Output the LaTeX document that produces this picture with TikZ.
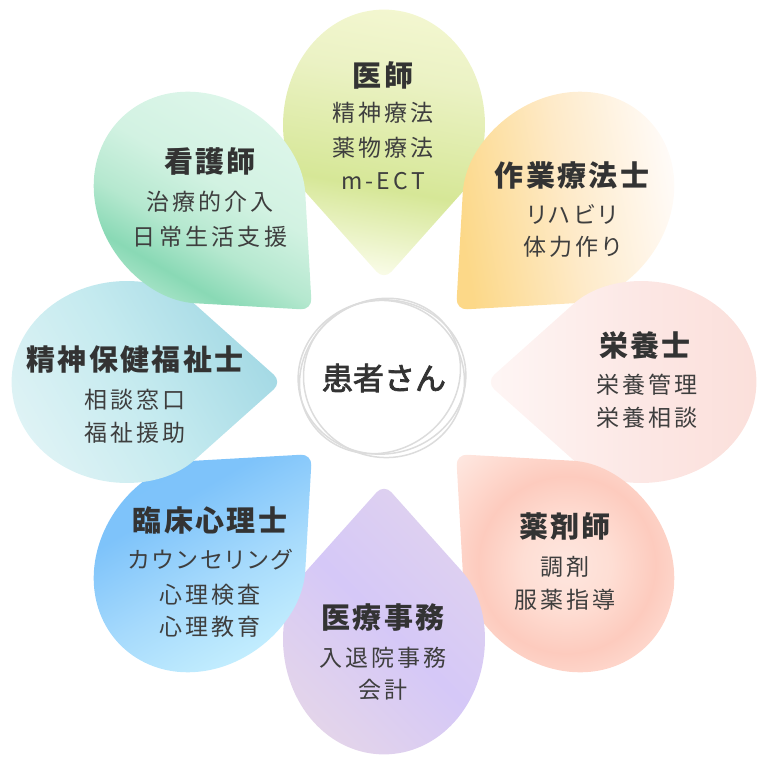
\documentclass[tikz,border=0pt]{standalone}
\usepackage{fontspec}
\setmainfont{Noto Sans CJK JP}
\newfontfamily\titlefont{Noto Sans CJK JP}[LetterSpace=8]
\newfontfamily\subfont{Noto Sans CJK JP}[LetterSpace=14, RawFeature=+palt]
\newfontfamily\centerfont{Noto Sans CJK JP}[FakeBold=2.5]
\definecolor{titlecol}{HTML}{333333}
\definecolor{subcol}{HTML}{3E3E3E}
\definecolor{scrib}{HTML}{DCDCDC}
% colours for shadings
\definecolor{iA}{HTML}{FAFCE9}\definecolor{iB}{HTML}{D6E797}\definecolor{iC}{HTML}{EBF2C4}\definecolor{iD}{HTML}{F7F9D6}
\definecolor{oA}{HTML}{FCD888}\definecolor{oB}{HTML}{FEEAC8}\definecolor{oC}{HTML}{FFFBF8}
\definecolor{nA}{HTML}{FEF6F5}\definecolor{nB}{HTML}{FCE6E3}\definecolor{nC}{HTML}{FBDFDA}
\definecolor{pA}{HTML}{FEE6DF}\definecolor{pB}{HTML}{FEDED4}\definecolor{pC}{HTML}{FDCBBE}\definecolor{pD}{HTML}{FEDBD1}\definecolor{pE}{HTML}{FEEAE4}
\definecolor{aA}{HTML}{EADAE4}\definecolor{aB}{HTML}{D5C8F7}\definecolor{aC}{HTML}{E4D6EB}
\definecolor{cA}{HTML}{7BC1FA}\definecolor{cB}{HTML}{7EC3FA}\definecolor{cC}{HTML}{A6DAFC}\definecolor{cD}{HTML}{C5EFFE}
\definecolor{mA}{HTML}{A2D8E4}\definecolor{mB}{HTML}{C4EAEF}\definecolor{mC}{HTML}{DFF3F5}
\definecolor{kA}{HTML}{DDF6EA}\definecolor{kB}{HTML}{D2F2E2}\definecolor{kC}{HTML}{B5E8CF}\definecolor{kD}{HTML}{89D9B5}\definecolor{kE}{HTML}{C0ECD6}\definecolor{kF}{HTML}{E2F7ED}
% shadings
\pgfdeclarehorizontalshading{shIshi}{100bp}{color(0bp)=(iA); color(25bp)=(iA); color(41bp)=(iB); color(62bp)=(iC); color(80bp)=(iD); color(100bp)=(iD)}
\pgfdeclarehorizontalshading{shOcc}{100bp}{color(0bp)=(oA); color(25bp)=(oA); color(50bp)=(oB); color(75bp)=(oC); color(100bp)=(oC)}
\pgfdeclarehorizontalshading{shNut}{100bp}{color(0bp)=(nA); color(25bp)=(nA); color(55bp)=(nB); color(75bp)=(nC); color(100bp)=(nC)}
\pgfdeclareradialshading{shPha}{\pgfpoint{0bp}{0bp}}{color(0bp)=(pA); color(10bp)=(pB); color(20bp)=(pC); color(28bp)=(pD); color(36bp)=(pE); color(50bp)=(pE)}
\pgfdeclarehorizontalshading{shAdm}{100bp}{color(0bp)=(aA); color(15bp)=(aA); color(50bp)=(aB); color(85bp)=(aC); color(100bp)=(aC)}
\pgfdeclarehorizontalshading{shPsy}{100bp}{color(0bp)=(cA); color(35bp)=(cB); color(55bp)=(cC); color(75bp)=(cD); color(100bp)=(cD)}
\pgfdeclarehorizontalshading{shMhs}{100bp}{color(0bp)=(mA); color(25bp)=(mA); color(50bp)=(mB); color(75bp)=(mC); color(100bp)=(mC)}
\pgfdeclarehorizontalshading{shNur}{100bp}{color(0bp)=(kA); color(27bp)=(kA); color(45bp)=(kB); color(58bp)=(kC); color(68bp)=(kD); color(80bp)=(kE); color(100bp)=(kF)}
\newcommand{\petalshape}[3]{%
  \shade[rotate=#1, shading=#2, shading angle=#3, rounded corners=11pt]
    (-70.7,181.2) arc[start angle=225, end angle=-45, x radius=100, y radius=112] -- (0,102) -- cycle;}
\begin{document}
\begin{tikzpicture}[x=1pt,y=1pt,
  ttl/.style={font=\titlefont\bfseries\fontsize{29}{29}\selectfont, text=titlecol, inner sep=0pt},
  sub/.style={font=\subfont\fontsize{23}{23}\selectfont, text=subcol, inner sep=0pt},
  scribble/.style={draw=scrib, line width=1.5pt}]
\useasboundingbox (-384,-384) rectangle (384,382);
% petals (direction-90)
\petalshape{0}{shIshi}{80}
\petalshape{-45}{shOcc}{10}
\petalshape{-90}{shNut}{0}
\petalshape{-135}{shPha}{0}
\petalshape{180}{shAdm}{45}
\petalshape{135}{shPsy}{-60}
\petalshape{90}{shMhs}{-150}
\petalshape{45}{shNur}{-120}
% centre
\draw[scribble] (-2,5) ellipse [x radius=84, y radius=77, rotate=8];
\draw[scribble] (0,3) ellipse [x radius=81, y radius=78, rotate=-25];
\draw[scribble] (-4,6) ellipse [x radius=83, y radius=75, rotate=35];
\node[font=\centerfont\fontsize{31}{31}\selectfont, text=titlecol, inner sep=0pt] (patient) at (0,4) {患者さん};
% texts
\node[ttl] (d0) at (-1,307) {医師};
\node[sub] (d1) at (-1,269) {精神療法};
\node[sub] (d2) at (-1,234) {薬物療法};
\node[sub] (d3) at (-1,201) {m-ECT};
\node[ttl] (o0) at (188,207) {作業療法士};
\node[sub] (o1) at (188,168) {リハビリ};
\node[sub] (o2) at (188,135) {体力作り};
\node[ttl] (n0) at (261,37) {栄養士};
\node[sub] (n1) at (263,-3) {栄養管理};
\node[sub] (n2) at (263,-36) {栄養相談};
\node[ttl] (p0) at (181,-145) {薬剤師};
\node[sub] (p1) at (181,-185) {調剤};
\node[sub] (p2) at (181,-218) {服薬指導};
\node[ttl] (a0) at (-1,-236) {医療事務};
\node[sub] (a1) at (-1,-276) {入退院事務};
\node[sub] (a2) at (-1,-308) {会計};
\node[ttl] (c0) at (-174,-138) {臨床心理士};
\node[sub] (c1) at (-174,-178) {カウンセリング};
\node[sub] (c2) at (-174,-213) {心理検査};
\node[sub] (c3) at (-174,-245) {心理教育};
\node[ttl] (m0) at (-249,22) {精神保健福祉士};
\node[sub] (m1) at (-249,-18) {相談窓口};
\node[sub] (m2) at (-249,-51) {福祉援助};
\node[ttl] (k0) at (-174,220) {看護師};
\node[sub] (k1) at (-174,180) {治療的介入};
\node[sub] (k2) at (-174,145) {日常生活支援};
\end{tikzpicture}
\end{document}
